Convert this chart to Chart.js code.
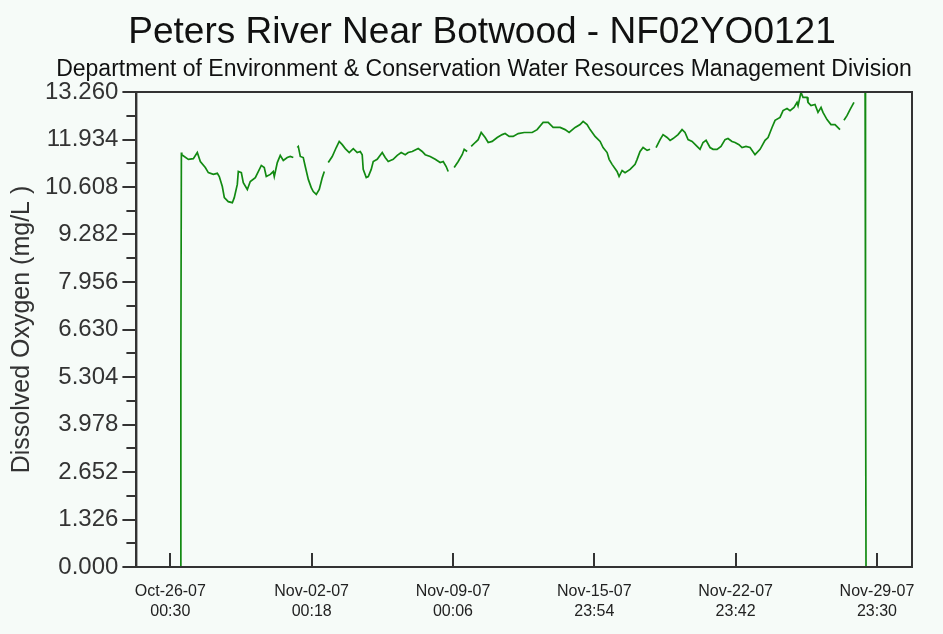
<!DOCTYPE html>
<html>
<head>
<meta charset="utf-8">
<script src="https://cdn.jsdelivr.net/npm/chart.js@4.4.1/dist/chart.umd.min.js"></script>
<style>
  body { margin: 0; background: #f6fbf8; }
</style>
</head>
<body>
<canvas id="doChart" width="943" height="634"></canvas>
<script>
// hours after Oct-26-07 00:30, null marks a gap in the record
const hours = [
  11.9, 12.5, 13.1, 13.6, 21.4, 27.3, 32.0, 35.6, 41.5, 45.1, 51.0, 55.8, 58.1, 61.7, 64.1, 68.8,
  73.6, 75.9, 79.5, 80.7, 84.3, 86.6, 91.4, 94.9, 100.9, 108.0, 111.5, 113.9, 118.7, 122.2, 123.4, 127.0,
  130.5, 134.1, 138.8, 142.4, 146.0, 148.0, 150.7, 151.9, 154.3, 157.8, 160.2, 163.8, 167.3, 169.7, 173.3, 176.8,
  180.4, 182.8, 185.0, 187.5, 192.2, 197.0, 200.5, 204.1, 207.7, 212.4, 217.2, 221.9, 225.5, 227.8, 229.0, 232.6,
  235.0, 238.5, 240.9, 245.6, 251.6, 255.1, 258.7, 264.6, 269.4, 274.1, 278.9, 282.4, 287.2, 294.3, 299.0, 302.6,
  308.5, 314.5, 320.4, 324.0, 327.5, 329.9, 333.0, 337.0, 341.8, 346.5, 348.9, 352.4, 355.0, 357.2, 361.9, 365.5,
  369.1, 373.8, 377.4, 382.1, 388.1, 394.0, 397.5, 402.3, 407.0, 413.0, 420.1, 429.6, 435.5, 442.6, 448.6, 454.5,
  462.8, 468.7, 473.5, 480.6, 486.5, 490.1, 494.8, 498.4, 504.3, 510.3, 513.8, 518.6, 521.0, 524.5, 530.4, 532.8,
  536.4, 539.9, 545.9, 551.8, 554.2, 557.7, 561.3, 566.1, 569.6, 573.0, 576.7, 581.5, 585.0, 589.8, 593.4, 596.9,
  602.8, 607.6, 611.1, 614.7, 619.5, 625.4, 628.9, 632.5, 636.1, 640.8, 644.4, 649.1, 653.8, 658.6, 662.1, 666.9,
  670.5, 675.2, 678.8, 683.5, 688.3, 694.2, 700.2, 706.1, 709.7, 714.4, 718.0, 723.9, 727.5, 732.2, 735.8, 740.5,
  744.1, 745.3, 748.8, 751.2, 756.0, 757.1, 760.7, 765.4, 769.0, 772.6, 774.9, 779.7, 784.4, 789.2, 795.1, 797.5,
  799.8, 803.4, 807.0, 811.7, 818.0, 824.8, 825.4, 826.0
];
const oxygen = [
  0, 5.80, 11.57, 11.51, 11.38, 11.40, 11.57, 11.32, 11.15, 11.01, 10.96, 10.99, 10.90, 10.62, 10.31, 10.20,
  10.17, 10.31, 10.68, 11.04, 11.01, 10.73, 10.54, 10.76, 10.87, 11.21, 11.15, 10.90, 10.96, 11.04, 10.90, 11.29,
  11.49, 11.35, 11.43, 11.46, 11.43, null, 11.71, 11.74, 11.46, 11.43, 11.18, 10.82, 10.59, 10.48, 10.40, 10.54,
  10.87, 11.04, null, 11.29, 11.46, 11.71, 11.88, 11.79, 11.68, 11.57, 11.68, 11.57, 11.60, 11.51, 11.10, 10.87,
  10.90, 11.10, 11.32, 11.38, 11.57, 11.43, 11.32, 11.38, 11.49, 11.57, 11.51, 11.57, 11.60, 11.68, 11.60, 11.51,
  11.46, 11.38, 11.29, 11.32, 11.18, 11.04, null, 11.15, 11.32, 11.51, 11.66, 11.60, null, 11.74, 11.85, 11.93,
  12.13, 11.99, 11.85, 11.88, 11.99, 12.07, 12.10, 12.02, 12.02, 12.10, 12.13, 12.13, 12.21, 12.41, 12.41, 12.27,
  12.27, 12.21, 12.13, 12.27, 12.35, 12.44, 12.35, 12.21, 12.02, 11.88, 11.71, 11.57, 11.38, 11.24, 11.04, 10.90,
  11.07, 11.01, 11.10, 11.24, 11.38, 11.60, 11.71, 11.63, 11.66, null, 11.71, 11.93, 12.07, 11.99, 11.91, 11.96,
  12.07, 12.21, 12.13, 11.93, 11.88, 11.74, 11.66, 11.85, 11.91, 11.71, 11.66, 11.66, 11.74, 11.93, 11.96, 11.88,
  11.85, 11.79, 11.71, 11.74, 11.71, 11.51, 11.66, 11.91, 11.99, 12.27, 12.47, 12.55, 12.74, 12.80, 12.74, 12.83,
  12.97, 12.88, 13.25, 13.11, 13.11, 12.97, 12.88, 12.91, 12.69, 12.83, 12.69, 12.49, 12.35, 12.35, 12.21, null,
  12.47, 12.60, 12.77, 12.97, null, 15.0, 6.65, 0
];

const yTicks = [0, 1.326, 2.652, 3.978, 5.304, 6.630, 7.956, 9.282, 10.608, 11.934, 13.260];
const xTicks = [0, 167.8, 335.6, 503.4, 671.2, 839.0];
const xLabels = [
  ['Oct-26-07', '00:30'],
  ['Nov-02-07', '00:18'],
  ['Nov-09-07', '00:06'],
  ['Nov-15-07', '23:54'],
  ['Nov-22-07', '23:42'],
  ['Nov-29-07', '23:30']
];
const chartTitle = 'Peters River Near Botwood - NF02YO0121';
const chartSubtitle = 'Department of Environment & Conservation Water Resources Management Division';

const fontFamily = '"Liberation Sans", Arial, sans-serif';
const ink = '#333333';

// background, headings, frame, minor y ticks and inward x ticks
const axisMarks = {
  id: 'axisMarks',
  beforeDraw(chart) {
    const ctx = chart.ctx;
    ctx.save();
    ctx.fillStyle = '#f6fbf8';
    ctx.fillRect(0, 0, chart.width, chart.height);
    ctx.fillStyle = '#111';
    ctx.textAlign = 'center';
    ctx.textBaseline = 'alphabetic';
    ctx.font = '37px ' + fontFamily;
    ctx.fillText(chartTitle, 482, 43);
    ctx.font = '23px ' + fontFamily;
    ctx.fillText(chartSubtitle, 484, 76);
    ctx.restore();
  },
  afterDraw(chart) {
    const { ctx, chartArea: a, scales: { x, y } } = chart;
    ctx.save();
    ctx.strokeStyle = ink;
    ctx.lineWidth = 2;
    ctx.strokeRect(a.left, a.top, a.right - a.left, a.bottom - a.top);
    ctx.beginPath();
    for (let i = 0; i < yTicks.length - 1; i++) {
      const py = Math.round(y.getPixelForValue((yTicks[i] + yTicks[i + 1]) / 2));
      ctx.moveTo(a.left - 10, py);
      ctx.lineTo(a.left, py);
    }
    xTicks.forEach(h => {
      const px = Math.round(x.getPixelForValue(h));
      ctx.moveTo(px, a.bottom);
      ctx.lineTo(px, a.bottom - 14);
    });
    ctx.stroke();
    ctx.restore();
  }
};

const ctx = document.getElementById('doChart').getContext('2d');
new Chart(ctx, {
  type: 'line',
  data: {
    datasets: [{
      label: 'Dissolved Oxygen',
      data: hours.map((h, i) => ({ x: h, y: oxygen[i] })),
      borderColor: '#128a12',
      borderWidth: 1.7,
      pointRadius: 0,
      tension: 0,
      spanGaps: false,
      fill: false
    }]
  },
  options: {
    responsive: false,
    animation: false,
    devicePixelRatio: 1,
    layout: { padding: { left: 4, right: 31, top: 92, bottom: 9 } },
    plugins: {
      legend: { display: false },
      tooltip: { enabled: false },
      title: { display: false }
    },
    scales: {
      x: {
        type: 'linear',
        min: -40.3,
        max: 880.6,
        afterBuildTicks: scale => { scale.ticks = xTicks.map(v => ({ value: v })); },
        ticks: {
          autoSkip: false,
          maxRotation: 0,
          padding: 3,
          color: '#222',
          font: { family: fontFamily, size: 16, lineHeight: 1.25 },
          callback: (value, index) => xLabels[index]
        },
        grid: { drawOnChartArea: false, drawTicks: true, tickLength: 12, tickColor: 'rgba(0,0,0,0)' },
        border: { display: true, color: ink, width: 2 }
      },
      y: {
        min: 0,
        max: 13.26,
        afterBuildTicks: scale => { scale.ticks = yTicks.map(v => ({ value: v })); },
        ticks: {
          padding: 4,
          color: ink,
          font: { family: fontFamily, size: 24 },
          callback: value => value.toFixed(3)
        },
        grid: { drawOnChartArea: false, drawTicks: true, tickLength: 14, color: ink, lineWidth: 2 },
        border: { display: true, color: ink, width: 2 },
        title: {
          display: true,
          text: 'Dissolved Oxygen (mg/L )',
          color: ink,
          font: { family: fontFamily, size: 25 },
          padding: { top: 3, bottom: 4 }
        }
      }
    }
  },
  plugins: [axisMarks]
});
</script>
</body>
</html>
